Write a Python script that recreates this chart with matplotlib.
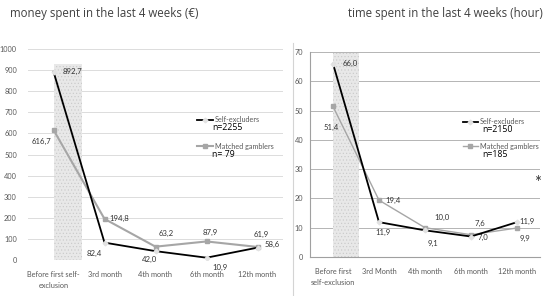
import matplotlib
matplotlib.use('Agg')
import matplotlib.pyplot as plt
from matplotlib.lines import Line2D

plt.rcParams['font.family'] = ['Lato', 'DejaVu Sans']
plt.rcParams['hatch.linewidth'] = 0.4

# data
money_cats = ['Before first self-\nexclusion', '3rd month', '4th month', '6th month', '12th month']
money_self = [892.7, 82.4, 42.0, 10.9, 58.6]
money_match = [616.7, 194.8, 63.2, 87.9, 61.9]
money_shade = 930

time_cats = ['Before first\nself-exclusion', '3rd Month', '4th month', '6th month', '12th month']
time_self = [66.0, 11.9, 9.1, 7.0, 11.9]
time_match = [51.4, 19.4, 10.0, 7.6, 9.9]
time_shade = 69.5

# label offsets (pixels) for each point
money_self_off = [(19, 0), (-10, -11), (-6, -8), (14, -10), (15, 3)]
money_match_off = [(-12, -12), (15, 0), (11, 13), (4, 9), (4, 12)]
time_self_off = [(17, 0), (4, -10), (8, -13), (12, -1), (10, 1)]
time_match_off = [(-2, -21), (14, 0), (17, 10), (9, 11), (8, -10)]

BLACK = '#000000'
GREY = '#a6a6a6'
LIGHT = '#e2e2e2'
TXT = '#595959'


def fmt(v):
    return f'{v:.1f}'.replace('.', ',')


def draw(ax, cats, s_self, s_match, shade, off_self, off_match, match_lw, grid_col):
    x = list(range(len(cats)))
    ax.bar(0, shade, width=0.56, align='edge', color='#e8e8e8', hatch='.....',
           edgecolor='#c8c8c8', linewidth=0, zorder=1)
    ax.plot(x, s_match, color=GREY, lw=match_lw, marker='s', ms=3.2,
            mfc=GREY, mec=GREY, zorder=3)
    ax.plot(x, s_self, color=BLACK, lw=1.3, marker='D', ms=2.4,
            mfc=LIGHT, mec=LIGHT, zorder=4)
    for i in x:
        ax.annotate(fmt(s_self[i]), (i, s_self[i]), xytext=off_self[i],
                    textcoords='offset pixels', ha='center', va='center',
                    fontsize=5.6, color='#333333')
        ax.annotate(fmt(s_match[i]), (i, s_match[i]), xytext=off_match[i],
                    textcoords='offset pixels', ha='center', va='center',
                    fontsize=5.6, color='#333333')
    ax.set_xlim(-0.5, len(cats) - 0.5)
    ax.set_xticks(x)
    ax.set_xticklabels(cats, fontsize=5.3, color=TXT, linespacing=1.6)
    ax.tick_params(axis='both', length=0, labelsize=5.3, labelcolor=TXT)
    ax.grid(axis='y', color=grid_col, lw=0.7, zorder=0)
    ax.set_axisbelow(True)


def legend(ax, x0, x1, xt, xn, ys, match_lw, n_self, n_match):
    y1, yn1, y2, yn2 = ys
    ax.add_line(Line2D([x0, x1], [y1, y1], transform=ax.transAxes, color=BLACK, lw=1.3,
                       clip_on=False))
    ax.add_line(Line2D([(x0 + x1) / 2], [y1], transform=ax.transAxes, marker='D', ms=2.4,
                       mfc=LIGHT, mec=LIGHT, clip_on=False))
    ax.text(xt, y1, 'Self-excluders', transform=ax.transAxes, fontsize=5.2, color=TXT,
            va='center')
    ax.text(xn, yn1, n_self, transform=ax.transAxes, fontsize=6.3, va='center',
            family=['Open Sans', 'DejaVu Sans'])
    ax.add_line(Line2D([x0, x1], [y2, y2], transform=ax.transAxes, color=GREY, lw=match_lw,
                       clip_on=False))
    ax.add_line(Line2D([(x0 + x1) / 2], [y2], transform=ax.transAxes, marker='s', ms=3.2,
                       mfc=GREY, mec=GREY, clip_on=False))
    ax.text(xt, y2, 'Matched gamblers', transform=ax.transAxes, fontsize=5.2, color=TXT,
            va='center')
    ax.text(xn, yn2, n_match, transform=ax.transAxes, fontsize=6.3, va='center',
            family=['Open Sans', 'DejaVu Sans'])


fig = plt.figure(figsize=(5.5, 2.96), dpi=100)

# left panel: money
ax1 = fig.add_axes([28 / 550, 1 - 260 / 296, 255 / 550, 211 / 296])
draw(ax1, money_cats, money_self, money_match, money_shade,
     money_self_off, money_match_off, 1.5, '#dcdcdc')
ax1.set_ylim(0, 1000)
ax1.set_yticks(range(0, 1001, 100))
ax1.tick_params(axis='y', pad=8)
ax1.tick_params(axis='x', pad=8)
for s in ax1.spines.values():
    s.set_visible(False)
legend(ax1, 0.663, 0.725, 0.733, 0.722, (0.664, 0.626, 0.540, 0.498), 1.5,
       'n=2255', 'n= 79')

# right panel: time
ax2 = fig.add_axes([310 / 550, 1 - 257 / 296, 230 / 550, 205 / 296])
draw(ax2, time_cats, time_self, time_match, time_shade,
     time_self_off, time_match_off, 1.0, '#b4b4b4')
ax2.set_ylim(0, 70)
ax2.set_yticks(range(0, 71, 10))
ax2.tick_params(axis='y', pad=5)
ax2.tick_params(axis='x', pad=8)
for k in ['top', 'right']:
    ax2.spines[k].set_visible(False)
for k in ['left', 'bottom']:
    ax2.spines[k].set_color('#a0a0a0')
    ax2.spines[k].set_linewidth(0.8)
legend(ax2, 0.665, 0.730, 0.739, 0.748, (0.659, 0.620, 0.541, 0.498), 1.0,
       'n=2150', 'n=185')
ax2.text(0.99, 0.36, '*', transform=ax2.transAxes, fontsize=12, ha='center',
         va='center', color='#333333')

# panel frame line
fig.add_artist(Line2D([293 / 550, 293 / 550], [0, 1 - 43 / 296], color='#d4d4d4', lw=0.8))

fig.text(10 / 550, 1 - 13 / 296, 'money spent in the last 4 weeks (€)', fontsize=8.3,
         color='#404040', va='center', family=['Open Sans', 'DejaVu Sans'])
fig.text(348 / 550, 1 - 13 / 296, 'time spent in the last 4 weeks (hour)', fontsize=8.3,
         color='#404040', va='center', family=['Open Sans', 'DejaVu Sans'])

fig.savefig('out.png', dpi=100)
